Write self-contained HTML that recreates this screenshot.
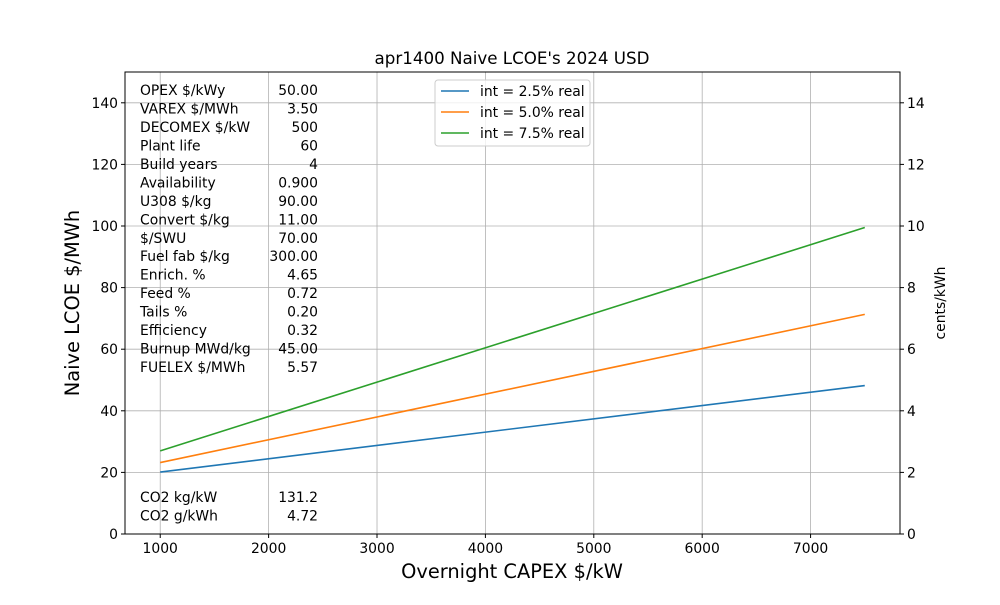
<!DOCTYPE html>
<html><head><meta charset="utf-8"><style>
body{margin:0;background:#fff}
svg{font-family:"DejaVu Sans","Liberation Sans",sans-serif}
</style></head><body>
<svg id="chart" width="1000" height="600" viewBox="0 0 1000 600">
<rect width="1000" height="600" fill="#fff"/>
<g id="grid"></g>
<g id="series"></g>
<rect x="125" y="72" width="775" height="462" fill="none" stroke="#000" stroke-width="1"/>
<g id="axes"></g>
<text x="512" y="64" font-size="16.7" text-anchor="middle">apr1400 Naive LCOE's 2024 USD</text>
<text x="512" y="578" font-size="19.4" text-anchor="middle">Overnight CAPEX $/kW</text>
<text transform="translate(79,303) rotate(-90)" font-size="19.4" text-anchor="middle">Naive LCOE $/MWh</text>
<text transform="translate(945,303) rotate(-90)" font-size="13.9" text-anchor="middle">cents/kWh</text>
<g id="table" font-size="13.9"></g>
<g>
<rect x="435" y="80" width="155" height="66" rx="3" fill="#fff" fill-opacity="0.8" stroke="#ccc"/>
<g id="legend"></g>
</g>
</svg>
<script>
const xValues=[1000,7500];
const series1=[20.1,48.2];
const series2=[23.2,71.3];
const series3=[27.0,99.5];
const seriesLabels=["int = 2.5% real","int = 5.0% real","int = 7.5% real"];
const colors=["#1f77b4","#ff7f0e","#2ca02c"];
const xTicks=[1000,2000,3000,4000,5000,6000,7000];
const yTicks=[0,20,40,60,80,100,120,140];
const y2Ticks=[0,2,4,6,8,10,12,14];
const paramNames=["OPEX $/kWy","VAREX $/MWh","DECOMEX $/kW","Plant life","Build years","Availability","U308 $/kg","Convert $/kg","$/SWU","Fuel fab $/kg","Enrich. %","Feed %","Tails %","Efficiency","Burnup MWd/kg","FUELEX $/MWh"];
const paramValues=["50.00","3.50","500","60","4","0.900","90.00","11.00","70.00","300.00","4.65","0.72","0.20","0.32","45.00","5.57"];
const co2Names=["CO2 kg/kW","CO2 g/kWh"];
const co2Values=["131.2","4.72"];

const NS="http://www.w3.org/2000/svg";
const L=125,R=900,T=72,B=534,xmin=675,xmax=7825,ymin=0,ymax=150;
const xs=v=>L+(v-xmin)/(xmax-xmin)*(R-L);
const ys=v=>B-(v-ymin)/(ymax-ymin)*(B-T);
const y2s=v=>B-v/15*(B-T);
function mk(tag,attrs,parent){const e=document.createElementNS(NS,tag);for(const k in attrs)e.setAttribute(k,attrs[k]);parent.appendChild(e);return e;}
const grid=document.getElementById('grid'),axes=document.getElementById('axes');
xTicks.forEach(t=>{const x=xs(t);
 let g=mk('line',{x1:x,x2:x,y1:T,y2:B,stroke:'#b0b0b0','stroke-width':0.8},grid);
 
 let k=mk('line',{x1:x,x2:x,y1:B,y2:B+4,stroke:'#000'},axes);
 
 let tx=mk('text',{x:x,y:B+19,'font-size':13.9,'text-anchor':'middle'},axes);tx.textContent=t;
 });
yTicks.forEach(t=>{const y=ys(t);
 let g=mk('line',{x1:L,x2:R,y1:y,y2:y,stroke:'#b0b0b0','stroke-width':0.8},grid);
 
 let k=mk('line',{x1:L-4,x2:L,y1:y,y2:y,stroke:'#000'},axes);
 
 let tx=mk('text',{x:L-7,y:y+5,'font-size':13.9,'text-anchor':'end'},axes);tx.textContent=t;
 });
y2Ticks.forEach(t=>{const y=y2s(t);
 let k=mk('line',{x1:R,x2:R+4,y1:y,y2:y,stroke:'#000'},axes);
 
 let tx=mk('text',{x:R+7,y:y+5,'font-size':13.9},axes);tx.textContent=t;
 });
const sg=document.getElementById('series');
[series1,series2,series3].forEach((s,i)=>{
 let p=mk('polyline',{points:s.map((v,j)=>xs(xValues[j])+','+ys(v)).join(' '),fill:'none',stroke:colors[i],'stroke-width':1.6},sg);
 });
const lg=document.getElementById('legend');
seriesLabels.forEach((s,i)=>{const y=91+i*21;
 let l=mk('line',{x1:441,x2:469,y1:y,y2:y,stroke:colors[i],'stroke-width':1.6},lg);
 
 let t=mk('text',{x:480,y:y+5,'font-size':13.9},lg);t.textContent=s;
 });
const tb=document.getElementById('table');
function row(n,v,y){
 let a=mk('text',{x:140,y:y},tb);a.textContent=n;
 let b=mk('text',{x:318,y:y,'text-anchor':'end'},tb);b.textContent=v;}
paramNames.forEach((n,i)=>row(n,paramValues[i],95+i*18.47));
co2Names.forEach((n,i)=>row(n,co2Values[i],502+i*18.47));
</script>
</body></html>
